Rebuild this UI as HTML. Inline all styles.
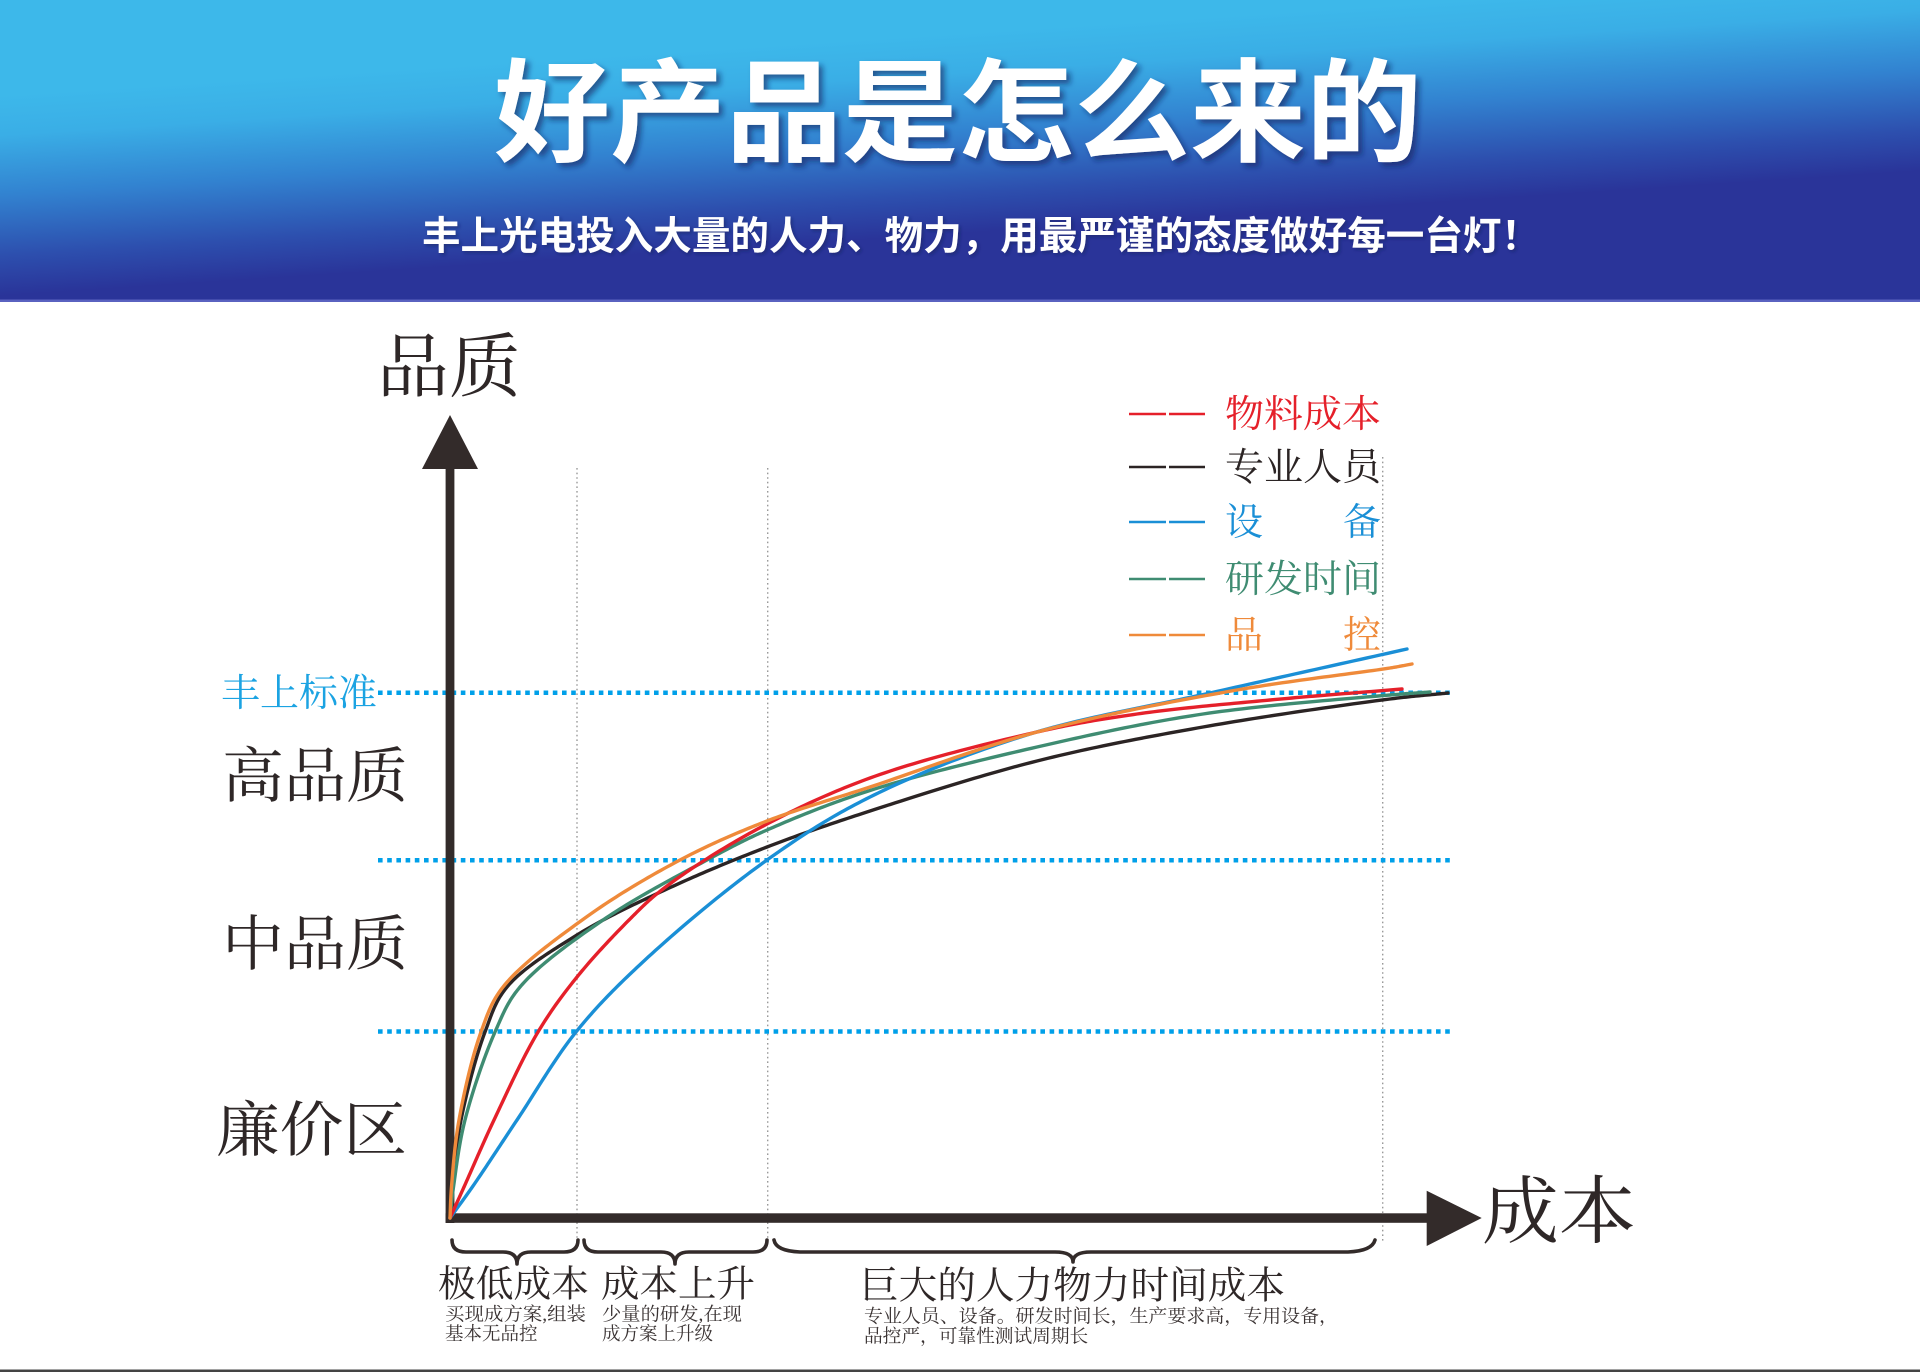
<!DOCTYPE html>
<html>
<head>
<meta charset="utf-8">
<style>
html,body{margin:0;padding:0;background:#fff;}
svg{display:block;}
.serif{font-family:"Liberation Serif","Noto Serif CJK SC",serif;}
.sans{font-family:"Liberation Sans","Noto Sans CJK SC",sans-serif;}
</style>
</head>
<body>
<svg id="chart" width="1920" height="1372" viewBox="0 0 1920 1372" xmlns="http://www.w3.org/2000/svg">
  <defs>
    <linearGradient id="hdr" gradientUnits="userSpaceOnUse" x1="0" y1="95" x2="13" y2="295">
      <stop offset="0" stop-color="#3db8ea"/>
      <stop offset="0.2" stop-color="#3aaee6"/>
      <stop offset="0.5" stop-color="#3282d0"/>
      <stop offset="0.8" stop-color="#2d4fae"/>
      <stop offset="1" stop-color="#2a3499"/>
    </linearGradient>
    <filter id="shadow" x="-10%" y="-20%" width="120%" height="150%">
      <feDropShadow dx="4" dy="4" stdDeviation="3" flood-color="#10205a" flood-opacity="0.6"/>
    </filter>
    <filter id="shadow2" x="-5%" y="-20%" width="110%" height="150%">
      <feDropShadow dx="2" dy="2" stdDeviation="1.5" flood-color="#10205a" flood-opacity="0.5"/>
    </filter>
  </defs>

  <!-- Header -->
  <rect x="0" y="0" width="1920" height="301" fill="url(#hdr)"/>
  <rect x="0" y="299.5" width="1920" height="2.5" fill="#5a62c0"/>
  <text class="sans" x="494" y="114" dominant-baseline="central" font-size="112" font-weight="700" fill="#ffffff" textLength="928" lengthAdjust="spacingAndGlyphs" filter="url(#shadow)">好产品是怎么来的</text>
  <text class="sans" x="422" y="237" dominant-baseline="central" font-size="39" font-weight="700" fill="#ffffff" textLength="1118" lengthAdjust="spacingAndGlyphs" filter="url(#shadow2)">丰上光电投入大量的人力、物力，用最严谨的态度做好每一台灯！</text>

  <!-- gray dotted verticals -->
  <g stroke="#9a9a9a" stroke-width="1.4" stroke-dasharray="1.6 3">
    <line x1="577" y1="468" x2="577" y2="1242"/>
    <line x1="767.7" y1="468" x2="767.7" y2="1242"/>
    <line x1="1382.7" y1="457" x2="1382.7" y2="1242"/>
  </g>

  <!-- blue dotted horizontal lines -->
  <g stroke="#00a0e9" stroke-width="4.5" stroke-dasharray="4.6 4.6">
    <line x1="378" y1="692.7" x2="1451" y2="692.7"/>
    <line x1="378" y1="860.3" x2="1451" y2="860.3"/>
    <line x1="378" y1="1031.5" x2="1451" y2="1031.5"/>
  </g>

  <!-- axes -->
  <g fill="#332b2a">
    <rect x="445.6" y="466" width="8.8" height="757"/>
    <polygon points="450,415 422,469 478,469"/>
    <rect x="445.6" y="1213.3" width="984" height="9.5"/>
    <polygon points="1481.7,1218 1426.7,1190.7 1426.7,1246"/>
  </g>

  <!-- curves (u,v) relative to origin (450,1218); JS smooths them -->
  <g fill="none" stroke-width="3.4" stroke-linecap="round" stroke-linejoin="round">
    <path id="cBlack" stroke="#2b2424" data-pts="0,0 2,31 11,98 35,186 57,231 127,283 217,329 317,371 420,407 587,457 753,491 940,519 998,525"
      d="M450,1218 L452,1187 L461,1120 L485,1032 L507,987 L577,935 L667,889 L767,847 L870,811 L1037,761 L1203,727 L1390,699 L1448,693"/>
    <path id="cGreen" stroke="#3f8c72" data-pts="0,0 3.5,31 15,98 45,186 70,231 153,298 257,358 317,388 420,427.5 587,471 753,504 940,523 980,526"
      d="M450,1218 L453.5,1187 L465,1120 L495,1032 L520,987 L603,920 L707,860 L767,830 L870,790.5 L1037,747 L1203,714 L1390,695 L1430,692"/>
    <path id="cBlue" stroke="#1a8fd6" data-pts="0,0 23,32 67,98 126,186 195,258 317,358 420,421 580,484 760,525 957,569"
      d="M450,1218 L473,1186 L517,1120 L576,1032 L645,960 L767,860 L870,797 L1030,734 L1210,693 L1407,649"/>
    <path id="cRed" stroke="#e5202a" data-pts="0,0 14,31 44,98 88,186 127,241 179,298 213,329 303,386.5 420,440 587,486 687,504 820,518 952,529"
      d="M450,1218 L464,1187 L494,1120 L538,1032 L577,977 L629,920 L663,889 L753,831.5 L870,778 L1037,732 L1137,714 L1270,700 L1402,689"/>
    <path id="cOrange" stroke="#ef8a3a" data-pts="0,0 1.5,31 9,98 31,186 53,231 135,300 230,358 317,397 420,431 587,486 787,528 940,550 962,554"
      d="M450,1218 L451.5,1187 L459,1120 L481,1032 L503,987 L585,918 L680,860 L767,821 L870,787 L1037,732 L1237,690 L1390,668 L1412,664"/>
  </g>

  <!-- axis labels -->
  <g class="serif" fill="#2e2727" dominant-baseline="central">
    <text x="377" y="368.5" font-size="70" textLength="144" lengthAdjust="spacingAndGlyphs">品质</text>
    <text x="1482" y="1213" font-size="74" textLength="154" lengthAdjust="spacingAndGlyphs">成本</text>
    <text x="222" y="777" font-size="60" textLength="186" lengthAdjust="spacingAndGlyphs">高品质</text>
    <text x="222" y="945" font-size="60" textLength="186" lengthAdjust="spacingAndGlyphs">中品质</text>
    <text x="216" y="1131" font-size="60" textLength="191" lengthAdjust="spacingAndGlyphs">廉价区</text>
  </g>
  <text class="serif" x="221" y="694" dominant-baseline="central" font-size="38" fill="#1ba3e2" textLength="156" lengthAdjust="spacingAndGlyphs">丰上标准</text>

  <!-- legend -->
  <g stroke-width="2.6">
    <line x1="1129" y1="414" x2="1166" y2="414" stroke="#e5202a"/>
    <line x1="1169" y1="414" x2="1205" y2="414" stroke="#e5202a"/>
    <line x1="1129" y1="467" x2="1166" y2="467" stroke="#2b2424"/>
    <line x1="1169" y1="467" x2="1205" y2="467" stroke="#2b2424"/>
    <line x1="1129" y1="522" x2="1166" y2="522" stroke="#1a8fd6"/>
    <line x1="1169" y1="522" x2="1205" y2="522" stroke="#1a8fd6"/>
    <line x1="1129" y1="579" x2="1166" y2="579" stroke="#3f8c72"/>
    <line x1="1169" y1="579" x2="1205" y2="579" stroke="#3f8c72"/>
    <line x1="1129" y1="635" x2="1166" y2="635" stroke="#ef8a3a"/>
    <line x1="1169" y1="635" x2="1205" y2="635" stroke="#ef8a3a"/>
  </g>
  <g class="serif" font-size="38" dominant-baseline="central">
    <text x="1225" y="415" fill="#e5202a" textLength="156" lengthAdjust="spacingAndGlyphs">物料成本</text>
    <text x="1225" y="468" fill="#2b2424" textLength="156" lengthAdjust="spacingAndGlyphs">专业人员</text>
    <text x="1225" y="523" fill="#1a8fd6">设</text>
    <text x="1343" y="523" fill="#1a8fd6">备</text>
    <text x="1225" y="580" fill="#3f8c72" textLength="156" lengthAdjust="spacingAndGlyphs">研发时间</text>
    <text x="1225" y="636" fill="#ef8a3a">品</text>
    <text x="1343" y="636" fill="#ef8a3a">控</text>
  </g>

  <!-- braces -->
  <g fill="none" stroke="#332b2a" stroke-width="3.6" stroke-linecap="round" stroke-linejoin="round">
    <path d="M452,1240 Q452,1252 466,1252 L503,1252 Q517,1252 517,1264 Q517,1252 531,1252 L564,1252 Q578,1252 578,1240"/>
    <path d="M584,1240 Q584,1252 598,1252 L661,1252 Q675,1252 675,1264 Q675,1252 689,1252 L753,1252 Q767,1252 767,1240"/>
    <path d="M774,1240 Q776,1251 800,1252 L1055,1252 Q1073,1252 1073,1262 Q1073,1252 1091,1252 L1348,1252 Q1372,1251 1375,1240"/>
  </g>

  <!-- bottom labels -->
  <g class="serif" fill="#2e2727" dominant-baseline="central">
    <text x="438" y="1285" font-size="37" textLength="151" lengthAdjust="spacingAndGlyphs">极低成本</text>
    <text x="601" y="1285" font-size="37" textLength="154" lengthAdjust="spacingAndGlyphs">成本上升</text>
    <text x="860" y="1286.5" font-size="38" textLength="425" lengthAdjust="spacingAndGlyphs">巨大的人力物力时间成本</text>
  </g>
  <g class="serif" fill="#3a3333" dominant-baseline="central">
    <text x="445" y="1315.5" font-size="18.5" textLength="141" lengthAdjust="spacingAndGlyphs">买现成方案,组装</text>
    <text x="445" y="1335" font-size="18.5">基本无品控</text>
    <text x="602" y="1315.5" font-size="18.5" textLength="140" lengthAdjust="spacingAndGlyphs">少量的研发,在现</text>
    <text x="602" y="1335" font-size="18.5">成方案上升级</text>
    <text x="864" y="1317" font-size="18.7" textLength="474" lengthAdjust="spacingAndGlyphs">专业人员、设备。研发时间长，生产要求高，专用设备，</text>
    <text x="864" y="1337" font-size="18.7">品控严，可靠性测试周期长</text>
  </g>

  <!-- bottom line -->
  <rect x="0" y="1369.5" width="1920" height="2.5" fill="#444444"/>
</svg>
<script>
(function(){
  var OX=450, OY=1218;
  function lerp(a,b,ta,tb,t){ var w=(t-ta)/(tb-ta); return [a[0]+(b[0]-a[0])*w, a[1]+(b[1]-a[1])*w]; }
  function seg(P0,P1,P2,P3,steps,out){
    function tj(ti,a,b){ var dx=b[0]-a[0], dy=b[1]-a[1]; return ti+Math.pow(Math.sqrt(dx*dx+dy*dy)||1e-6,0.5); }
    var t0=0, t1=tj(t0,P0,P1), t2=tj(t1,P1,P2), t3=tj(t2,P2,P3);
    for (var s=1;s<=steps;s++){
      var t=t1+(t2-t1)*s/steps;
      var A1=lerp(P0,P1,t0,t1,t), A2=lerp(P1,P2,t1,t2,t), A3=lerp(P2,P3,t2,t3,t);
      var B1=lerp(A1,A2,t0,t2,t), B2=lerp(A2,A3,t1,t3,t);
      var C=lerp(B1,B2,t1,t2,t);
      out.push(C);
    }
  }
  function build(el){
    var raw = el.getAttribute('data-pts');
    if(!raw) return;
    var pts = raw.trim().split(/\s+/).map(function(s){var a=s.split(',');return [OX+parseFloat(a[0]),OY-parseFloat(a[1])];});
    var n = pts.length;
    var first=[2*pts[0][0]-pts[1][0], 2*pts[0][1]-pts[1][1]];
    var last=[2*pts[n-1][0]-pts[n-2][0], 2*pts[n-1][1]-pts[n-2][1]];
    var ext=[first].concat(pts).concat([last]);
    var out=[pts[0]];
    for (var i=1;i<ext.length-2;i++){
      seg(ext[i-1],ext[i],ext[i+1],ext[i+2],30,out);
    }
    var d='M'+out[0][0].toFixed(2)+','+out[0][1].toFixed(2);
    for (var k=1;k<out.length;k++) d+=' L'+out[k][0].toFixed(2)+','+out[k][1].toFixed(2);
    el.setAttribute('d', d);
  }
  ['cBlack','cGreen','cBlue','cRed','cOrange'].forEach(function(id){
    var el=document.getElementById(id); if(el) build(el);
  });
})();
</script>
</body>
</html>
